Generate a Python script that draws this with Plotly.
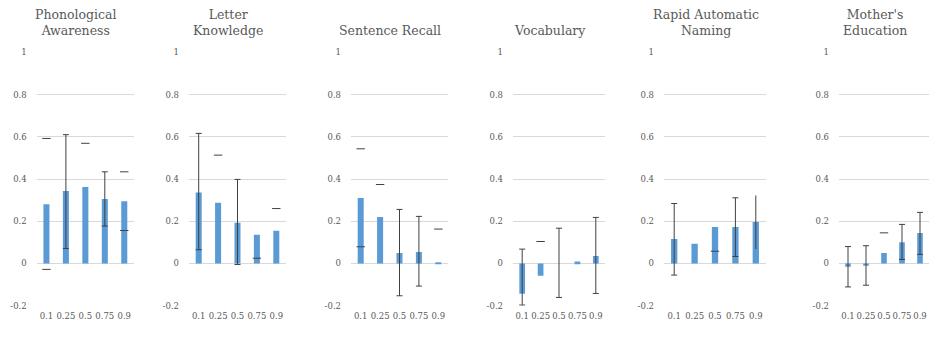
import plotly.graph_objects as go

# ---------------- data ----------------
quantiles = ["0.1", "0.25", "0.5", "0.75", "0.9"]
titles = ["Phonological<br>Awareness", "Letter<br>Knowledge", "Sentence Recall",
          "Vocabulary", "Rapid Automatic<br>Naming", "Mother's<br>Education"]

# point estimates per panel
est_phon = [0.28, 0.343, 0.362, 0.305, 0.295]
est_letter = [0.336, 0.287, 0.193, 0.136, 0.155]
est_sent = [0.31, 0.22, 0.049, 0.054, 0.006]
est_vocab = [-0.144, -0.058, 0.0, 0.009, 0.035]
est_ran = [0.116, 0.093, 0.173, 0.173, 0.196]
est_mom = [-0.016, -0.011, 0.049, 0.101, 0.144]

# lower / upper interval ends (None = not shown)
lo_phon = [-0.028, 0.071, None, 0.177, 0.156]
hi_phon = [0.592, 0.61, 0.569, 0.434, 0.434]
lo_letter = [0.065, None, -0.005, 0.025, None]
hi_letter = [0.616, 0.513, 0.398, None, 0.26]
lo_sent = [0.079, None, -0.153, -0.107, None]
hi_sent = [0.543, 0.374, 0.256, 0.223, 0.163]
lo_vocab = [-0.197, None, -0.161, None, -0.142]
hi_vocab = [0.068, 0.104, 0.167, None, 0.218]
lo_ran = [-0.055, None, 0.058, 0.033, 0.068]
hi_ran = [0.284, None, None, 0.311, 0.322]
lo_mom = [-0.111, -0.103, None, 0.019, 0.043]
hi_mom = [0.08, 0.084, 0.145, 0.185, 0.242]

# how each interval is drawn: "full" stem+caps, "caps" caps only, "stem" stem only, None
err_phon = ["caps", "full", "caps", "full", "caps"]
err_letter = ["full", "caps", "full", "caps", "caps"]
err_sent = ["caps", "caps", "full", "full", "caps"]
err_vocab = ["full", "caps", "full", None, "full"]
err_ran = ["full", None, "caps", "full", "stem"]
err_mom = ["full", "full", "caps", "full", "full"]

ests = [est_phon, est_letter, est_sent, est_vocab, est_ran, est_mom]
los = [lo_phon, lo_letter, lo_sent, lo_vocab, lo_ran, lo_mom]
his = [hi_phon, hi_letter, hi_sent, hi_vocab, hi_ran, hi_mom]
errs = [err_phon, err_letter, err_sent, err_vocab, err_ran, err_mom]

y_ticks = [-0.2, 0, 0.2, 0.4, 0.6, 0.8, 1]
y_tick_text = ["-0.2", "0", "0.2", "0.4", "0.6", "0.8", "1"]

# ---------------- layout constants ----------------
W, H = 942, 344
panel_px = [(36.7, 134), (189, 286), (351, 448), (513, 605), (664, 766), (839, 929)]
y_top_px, y_bot_px = 52.3, 305.7

BAR = "#5B9BD5"
ERR = "#404040"
GRID = "#D9D9D9"
TXT = "#595959"
FONT = "DejaVu Serif, Liberation Serif, serif"

fig = go.Figure()
layout = dict(
    width=W, height=H, margin=dict(l=0, r=0, t=0, b=0, autoexpand=False),
    paper_bgcolor="white", plot_bgcolor="white", showlegend=False,
    font=dict(family=FONT, color=TXT, size=8.5),
    annotations=[],
)

ydom = [(H - y_bot_px) / H, (H - y_top_px) / H]

for i in range(6):
    sfx = "" if i == 0 else str(i + 1)
    xa, ya = "x" + sfx, "y" + sfx
    x0, x1 = panel_px[i]
    est, lo, hi, ers = ests[i], los[i], his[i], errs[i]

    fig.add_trace(go.Bar(x=quantiles, y=est, marker=dict(color=BAR, line=dict(width=0)),
                         width=0.31, xaxis=xa, yaxis=ya, hoverinfo="skip"))

    for kind, capw in (("full", 3), ("stem", 0)):
        idx = [k for k in range(5) if ers[k] == kind]
        if idx:
            fig.add_trace(go.Scatter(
                x=[quantiles[k] for k in idx], y=[est[k] for k in idx],
                mode="markers", marker=dict(size=1, opacity=0),
                error_y=dict(type="data", symmetric=False,
                             array=[hi[k] - est[k] for k in idx],
                             arrayminus=[est[k] - lo[k] for k in idx],
                             color=ERR, thickness=1, width=capw),
                xaxis=xa, yaxis=ya, hoverinfo="skip"))

    cx, cy = [], []
    for k in range(5):
        if ers[k] == "caps":
            for v in (lo[k], hi[k]):
                if v is not None:
                    cx.append(quantiles[k])
                    cy.append(v)
    if cx:
        fig.add_trace(go.Scatter(
            x=cx, y=cy, mode="markers",
            marker=dict(symbol="line-ew", size=6, line=dict(color=ERR, width=1)),
            xaxis=xa, yaxis=ya, hoverinfo="skip"))

    layout["xaxis" + sfx] = dict(
        domain=[x0 / W, x1 / W], anchor=ya, type="category", automargin=False,
        showgrid=False, showline=False, zeroline=False, ticks="", ticklabelstandoff=4,
        tickangle=0,
        tickfont=dict(family=FONT, color=TXT, size=8.5), fixedrange=True,
    )
    layout["yaxis" + sfx] = dict(
        domain=ydom, anchor=xa, range=[-0.2, 1], tickvals=y_ticks, ticktext=y_tick_text,
        automargin=False,
        showgrid=True, gridcolor=GRID, gridwidth=1, zeroline=False, showline=False,
        ticks="", ticklabelstandoff=9,
        tickfont=dict(family=FONT, color=TXT, size=8.5), fixedrange=True,
    )
    layout["annotations"].append(dict(
        text=titles[i], xref="paper", yref="paper",
        x=((x0 + x1) / 2 - 9.5) / W, y=(H - 40) / H,
        xanchor="center", yanchor="bottom", showarrow=False,
        font=dict(family=FONT, color=TXT, size=12.5),
    ))

fig.update_layout(**layout)
fig.write_html("out.html")
